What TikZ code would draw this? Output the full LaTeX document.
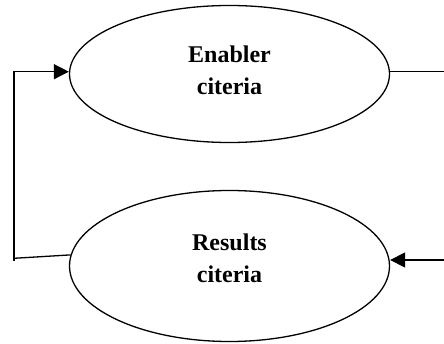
\documentclass[tikz,border=0pt]{standalone}
\usepackage{fontspec}
\setmainfont{Liberation Serif}
\usetikzlibrary{shapes.geometric,arrows.meta}
\tikzset{
  crit/.style={ellipse,draw,line width=1.3pt,inner sep=0pt,minimum width=320pt},
  lbl/.style={align=center,font=\bfseries\fontsize{24}{31.6}\selectfont},
  conn/.style={line width=1.3pt},
  arr/.style={conn,-{Triangle[length=15pt,width=15pt]}}
}
\begin{document}
\begin{tikzpicture}[x=1pt,y=-1pt]
\useasboundingbox (0,0) rectangle (444,344);
\node[crit,minimum height=137pt] (e1) at (229.5,74) {};
\node[crit,minimum height=151pt] (e2) at (229.5,266) {};
\node[lbl] (t1) at (229.5,70.5) {Enabler\\citeria};
\node[lbl] (t2) at (229.5,258.5) {Results\\citeria};
\coordinate (tl) at (14,71.7);
\coordinate (bl) at (14,258.3);
\coordinate (blend) at (14,261);
\coordinate (tr) at (445,71.7);
\coordinate (br) at (445,260);
\draw[conn] (e2.176.8) -- (bl);
\draw[arr] (blend) -- (tl) -- (tl -| e1.west);
\draw[conn] (tr -| e1.east) -- (tr);
\draw[arr] (br) -- (br -| e2.east);
\end{tikzpicture}
\end{document}
